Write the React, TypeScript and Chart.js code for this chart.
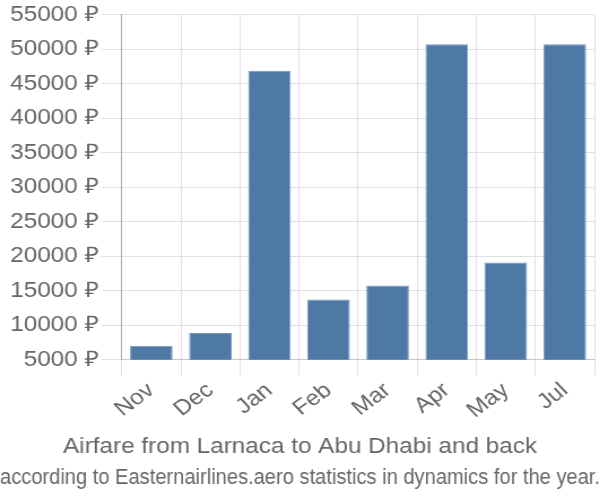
import React, { useEffect, useRef } from "react";
import { Chart, registerables } from "chart.js";

Chart.register(...registerables);

const months = ["Nov", "Dec", "Jan", "Feb", "Mar", "Apr", "May", "Jul"];
const prices = [7050, 8900, 46900, 13750, 15780, 50760, 19120, 50760];
const titleLines = [
  "Airfare from Larnaca to Abu Dhabi and back",
  "according to Easternairlines.aero statistics in dynamics for the year.",
];
const yMin = 5000;
const yMax = 55000;
const yStep = 5000;
const currency = "₽";

const FONT = "'Liberation Sans', Arial, sans-serif";
const STRETCH = 1.13;
const W = 600;
const H = 500;

export default function App() {
  const ref = useRef<HTMLCanvasElement | null>(null);

  useEffect(() => {
    if (!ref.current) return;
    const chart = new Chart(ref.current, {
      type: "bar",
      data: {
        labels: months,
        datasets: [
          {
            data: prices,
            backgroundColor: "#4e79a7",
            borderColor: "#7596bd",
            borderWidth: 1,
          },
        ],
      },
      options: {
        animation: false,
        responsive: true,
        maintainAspectRatio: false,
        layout: { padding: { top: 3, right: 0, left: 0, bottom: 6 } },
        plugins: {
          legend: { display: false },
          tooltip: { enabled: false },
          title: {
            display: true,
            position: "bottom",
            text: titleLines,
            color: "#666",
            font: { family: FONT, size: 21.5, weight: "normal", lineHeight: 1.45 },
            padding: { top: 6, bottom: 0 },
          },
        },
        scales: {
          x: {
            grid: {
              color: "#e0e0e0",
              tickLength: 16,
              offset: true,
            },
            border: { color: "#c8c8c8" },
            ticks: {
              color: "#666",
              font: { family: FONT, size: 21.5 },
              minRotation: 40,
              maxRotation: 40,
              padding: 2,
            },
          },
          y: {
            min: yMin,
            max: yMax,
            grid: { color: "#e0e0e0", tickLength: 18 },
            border: { color: "#aaaaaa" },
            ticks: {
              stepSize: yStep,
              color: "#666",
              font: { family: FONT, size: 21.5 },
              padding: 2,
              callback: (v: any) => `${v} ${currency}`,
            },
            afterFit: (axis: any) => {
              axis.width += 7;
            },
          },
          yRightSpacer: {
            type: "linear",
            position: "right",
            display: true,
            grid: { display: false, drawTicks: false },
            border: { display: false },
            ticks: { display: false },
            afterFit: (axis: any) => {
              axis.width = 5;
            },
          },
        },
      },
    });
    return () => chart.destroy();
  }, []);

  return (
    <div style={{ position: "absolute", left: 0, top: 0, width: W, height: H, overflow: "hidden" }}>
      <div
        style={{
          width: W / STRETCH,
          height: H,
          transform: `scaleX(${STRETCH})`,
          transformOrigin: "0 0",
        }}
      >
        <canvas ref={ref} />
      </div>
    </div>
  );
}
